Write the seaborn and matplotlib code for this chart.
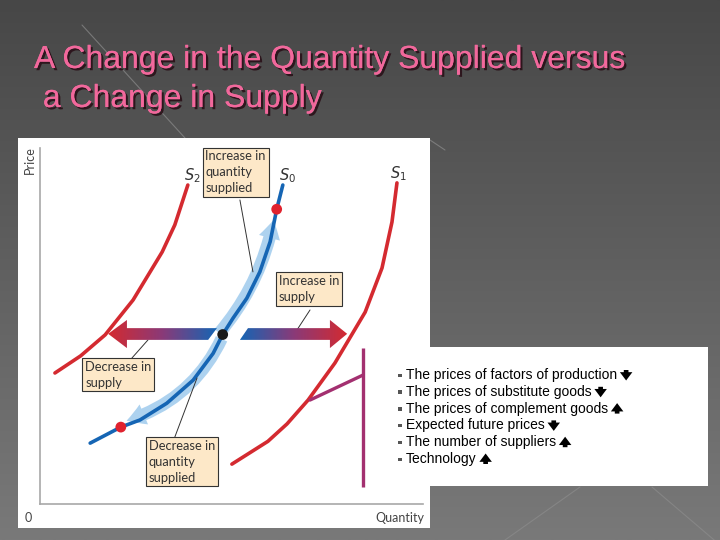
import numpy as np
import pandas as pd
import matplotlib
matplotlib.use("Agg")
import matplotlib.pyplot as plt
import matplotlib.patheffects as pe
from matplotlib.patches import Rectangle, Polygon
from matplotlib.colors import LinearSegmentedColormap
import seaborn as sns

# supply curves (quantity, price on a 0-100 scale)
s0_q = [63.4, 61.8, 60.1, 57.4, 54.0, 50.4, 47.7, 45.2, 40.0, 33.1, 26.1, 21.1, 13.1]
s0_p = [89.6, 82.8, 73.7, 65.2, 57.8, 52.2, 47.6, 42.3, 34.8, 28.3, 23.6, 21.6, 17.1]
s2_q = [38.6, 35.2, 31.9, 24.3, 17.0, 10.6, 3.9]
s2_p = [89.6, 78.4, 70.8, 57.3, 47.5, 41.6, 36.8]
s1_q = [93.2, 91.9, 89.3, 84.9, 77.0, 70.0, 64.5, 59.5, 50.1]
s1_p = [90.2, 79.2, 66.3, 53.9, 39.6, 29.2, 22.5, 17.6, 11.2]

curve_labels = ["$S_2$", "$S_0$", "$S_1$"]
label_q = [39.9, 64.5, 93.5]
label_p = [92.1, 92.1, 92.7]

# points on S0: new prices (red) and the starting point (black)
dot_q = [61.8, 47.7, 21.1]
dot_p = [82.8, 47.6, 21.6]
dot_kind = ["moved", "start", "moved"]

box_texts = ["Increase in\nquantity\nsupplied", "Increase in\nsupply",
             "Decrease in\nsupply", "Decrease in\nquantity\nsupplied"]
box_q = [43.2, 62.3, 11.8, 28.4]
box_p = [99.3, 64.4, 40.3, 18.1]

bullets = ["The prices of factors of production",
           "The prices of substitute goods",
           "The prices of complement goods",
           "Expected future prices",
           "The number of suppliers",
           "Technology"]
bullet_dir = ["down", "down", "up", "down", "up", "up"]

title_1 = "A Change in the Quantity Supplied versus"
title_2 = " a Change in Supply"

RED = "#d42a30"
BLUE = "#1565b4"
BEIGE = "#fde8c8"

sns.set_theme(style="white")
plt.rcParams["font.family"] = ["Liberation Sans", "DejaVu Sans"]

fig = plt.figure(figsize=(7.2, 5.4), dpi=100)

# slide background in pixel coordinates
bg = fig.add_axes([0, 0, 1, 1])
grad = np.linspace(71, 121, 256)[:, None] / 255.0
bg.imshow(np.dstack([grad, grad, grad]), extent=[0, 720, 540, 0], aspect="auto", zorder=0)
for (xa, ya), (xb, yb) in [((82, 25), (185, 138)), ((580, 487), (505, 540)),
                           ((652, 487), (720, 545)), ((430, 140), (445, 150))]:
    bg.plot([xa, xb], [ya, yb], color="#8c8c8c", lw=0.8, alpha=0.7, zorder=0.5)
bg.set_xlim(0, 720)
bg.set_ylim(540, 0)
bg.axis("off")

bg.add_patch(Rectangle((18, 138), 412, 390, facecolor="white", edgecolor="none", zorder=1))
bg.add_patch(Rectangle((430, 347), 278, 139, facecolor="white", edgecolor="none", zorder=1))

shadow = [pe.withSimplePatchShadow(offset=(1.6, -1.6), shadow_rgbFace="#2a1018", alpha=0.9),
          pe.Normal()]
bg.text(34, 60, title_1, color="#f2689c", fontsize=23, va="center", ha="left",
        path_effects=shadow, zorder=3)
bg.text(34, 99, title_2, color="#f2689c", fontsize=23, va="center", ha="left",
        path_effects=shadow, zorder=3)

# diagram axes
ax = fig.add_axes([40 / 720, 36 / 540, 383 / 720, 356 / 540])
ax.set_facecolor("none")
ax.set_xlim(0, 100)
ax.set_ylim(0, 100)
for side in ["top", "right"]:
    ax.spines[side].set_visible(False)
for side in ["left", "bottom"]:
    ax.spines[side].set_color("#a8a8a8")
    ax.spines[side].set_linewidth(1.2)
ax.set_xticks([])
ax.set_yticks([])

lab_font = ["Lato", "DejaVu Sans"]
ax.text(-2.6, 100.6, "Price", rotation=90, ha="center", va="top", fontsize=9,
        color="#444444", family=lab_font)
ax.text(100.3, -2.2, "Quantity", ha="right", va="top", fontsize=9,
        color="#444444", family=lab_font)
ax.text(-3.0, -2.2, "0", ha="center", va="top", fontsize=9, color="#444444",
        family=lab_font)

# light blue movement arrows along S0
for (qa, pa), (qb, pb), rad in [((46.8, 48.0), (61.0, 79.8), 0.13),
                                ((47.4, 46.4), (22.6, 23.4), -0.22)]:
    ax.annotate("", xy=(qb, pb), xytext=(qa, pa), zorder=1.5,
                arrowprops=dict(arrowstyle="simple,head_length=1.1,head_width=1.3,tail_width=0.75",
                                connectionstyle=f"arc3,rad={rad}", color="#a9d0ef",
                                alpha=0.95, lw=0, shrinkA=0, shrinkB=0))

curves = pd.concat([
    pd.DataFrame({"q": s2_q, "p": s2_p, "curve": "S2"}),
    pd.DataFrame({"q": s0_q, "p": s0_p, "curve": "S0"}),
    pd.DataFrame({"q": s1_q, "p": s1_p, "curve": "S1"}),
], ignore_index=True)
sns.lineplot(data=curves, x="q", y="p", hue="curve", units="curve",
             estimator=None, sort=False, lw=2.6, legend=False, ax=ax, zorder=2,
             palette={"S2": RED, "S0": BLUE, "S1": RED})
for ln in ax.get_lines():
    ln.set_solid_joinstyle("round")

for txt, q, p in zip(curve_labels, label_q, label_p):
    ax.text(q, p, txt, ha="center", va="center", fontsize=10.5, color="#333333")

# gradient shift arrows
cmap = LinearSegmentedColormap.from_list("rb", [RED, "#8a3a78", BLUE])
ramp = np.linspace(0, 1, 256)[None, :]
left_arrow = [(17.8, 47.8), (22.7, 51.7), (22.7, 49.4), (46.2, 49.4), (43.9, 46.1),
              (22.7, 46.1), (22.7, 43.8)]
right_arrow = [(52.2, 46.1), (54.3, 49.4), (75.7, 49.4), (75.7, 51.7), (80.2, 47.8),
               (75.7, 43.8), (75.7, 46.1)]
for verts, ext, flip in [(left_arrow, [17.8, 46.2, 43.8, 51.7], False),
                         (right_arrow, [52.2, 80.2, 43.8, 51.7], True)]:
    poly = Polygon(verts, closed=True, facecolor="none", edgecolor="none")
    ax.add_patch(poly)
    im = ax.imshow(ramp[:, ::-1] if flip else ramp, cmap=cmap, extent=ext,
                   aspect="auto", origin="lower", zorder=3)
    im.set_clip_path(poly)
ax.set_xlim(0, 100)
ax.set_ylim(0, 100)

dots = pd.DataFrame({"q": dot_q, "p": dot_p, "kind": dot_kind})
sns.scatterplot(data=dots, x="q", y="p", hue="kind", palette={"moved": "#e0222e", "start": "#1a1a1a"},
                s=60, edgecolor="none", legend=False, ax=ax, zorder=5)

# leader lines and label boxes
for (qa, pa), (qb, pb) in [((52.2, 85.4), (55.6, 65.2)), ((70.5, 54.5), (67.1, 48.9)),
                           ((24.0, 41.0), (28.2, 46.1)), ((35.2, 18.8), (41.0, 35.4))]:
    ax.plot([qa, qb], [pa, pb], color="#333333", lw=0.7)
for txt, q, p in zip(box_texts, box_q, box_p):
    ax.text(q, p, txt, ha="left", va="top", fontsize=9.3, color="#333333",
            family=lab_font, linespacing=1.4, zorder=6, clip_on=False,
            bbox=dict(boxstyle="square,pad=0.22", facecolor=BEIGE, edgecolor="#333333", lw=0.8))

ax.plot([84.3, 84.3], [43.8, 4.8], color="#a33070", lw=2.4, solid_capstyle="butt")
ax.plot([84.3, 70.5], [36.2, 29.2], color="#a33070", lw=2.4)

# bullet list
fig.canvas.draw()
renderer = fig.canvas.get_renderer()
inv = bg.transData.inverted()
for i, (line, d) in enumerate(zip(bullets, bullet_dir)):
    y = 375 + i * 16.8
    bg.add_patch(Rectangle((398, y - 1.5), 3.5, 3.5, facecolor="#555555", edgecolor="none", zorder=3))
    t = bg.text(406, y, line, fontsize=10, va="center", ha="left", color="black", zorder=3)
    bb = t.get_window_extent(renderer)
    x_end = inv.transform((bb.x1, bb.y0))[0] + 9
    tip, tail = (y + 5.5, y - 5) if d == "down" else (y - 5.5, y + 5)
    bg.annotate("", xy=(x_end, tip), xytext=(x_end, tail), zorder=3,
                arrowprops=dict(arrowstyle="simple,head_length=0.5,head_width=0.75,tail_width=0.28",
                                color="black", lw=0, shrinkA=0, shrinkB=0, mutation_scale=12))

fig.savefig("out.png", dpi=100)
